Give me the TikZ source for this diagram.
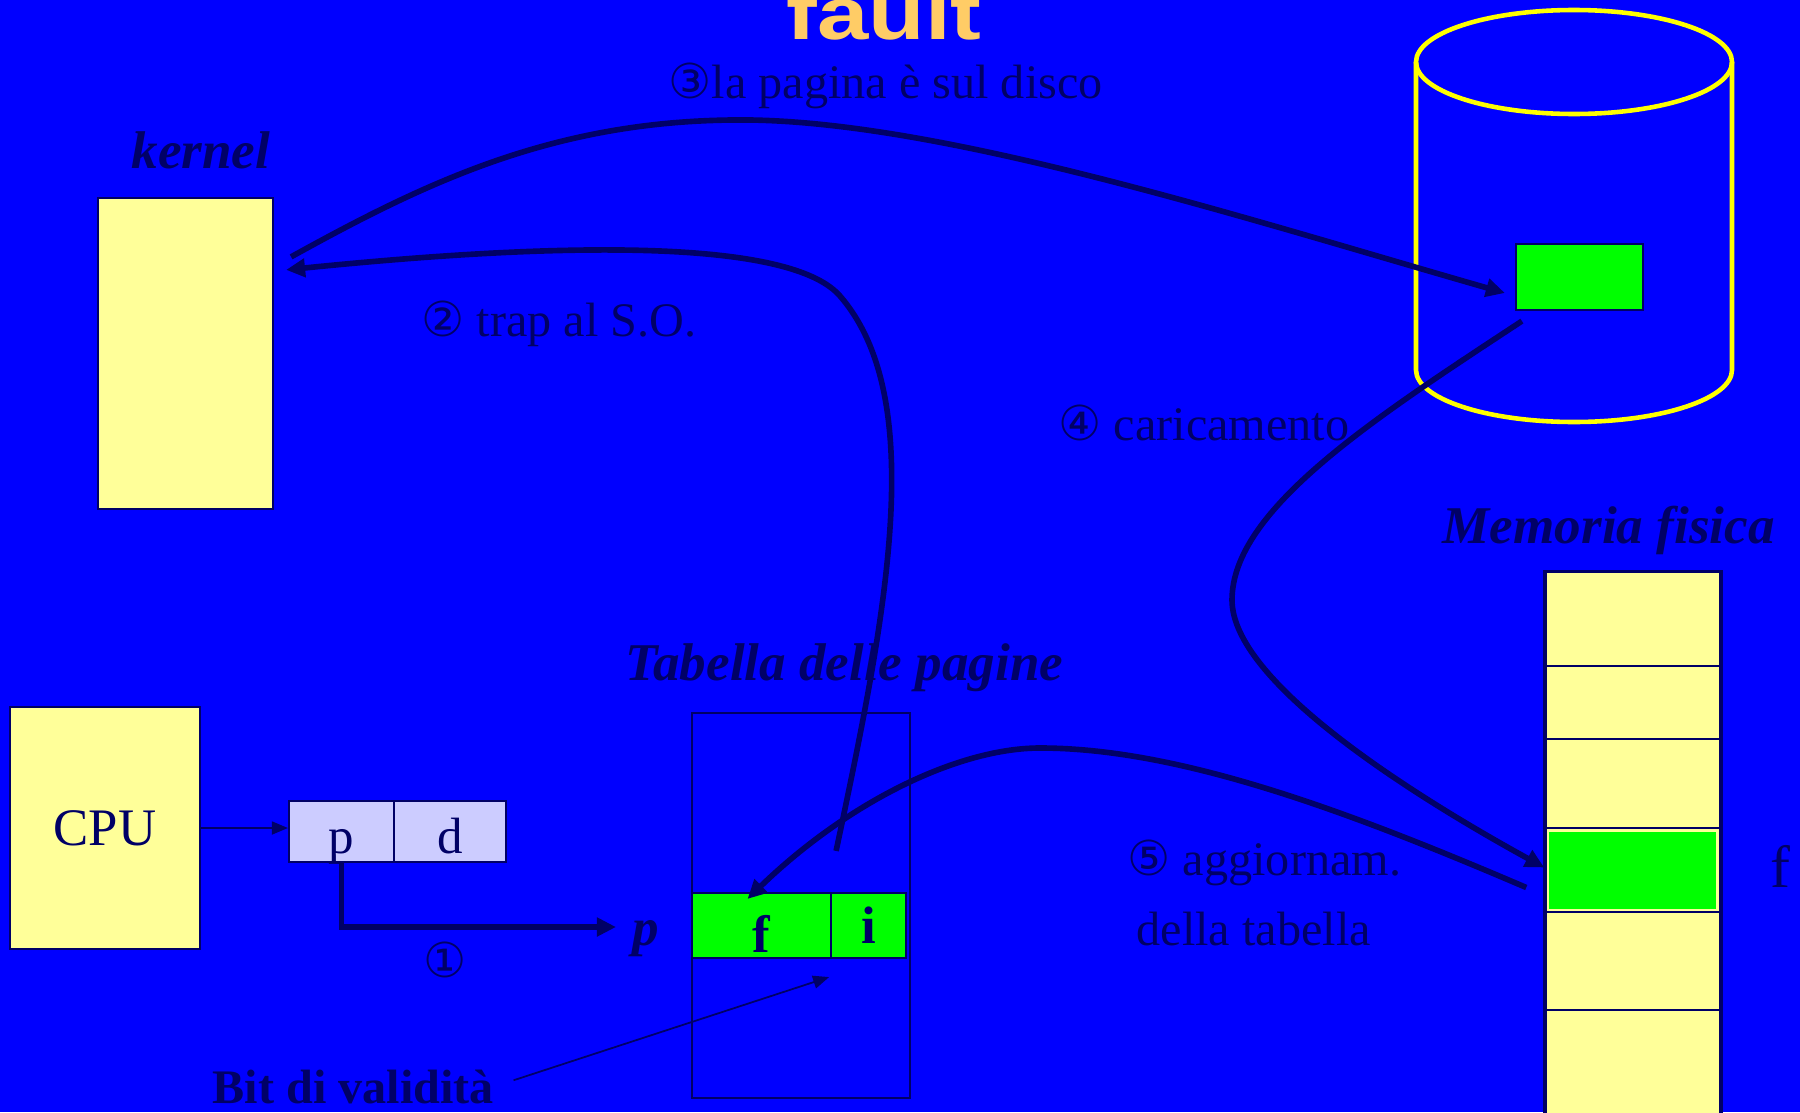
\documentclass[tikz,border=0pt]{standalone}
\usepackage{fontspec}
\setmainfont{Liberation Serif}
\newfontfamily\circfont{DejaVu Sans}
\newfontfamily\headfont[FakeStretch=1.25]{Liberation Sans}
\usetikzlibrary{arrows.meta, calc}
\definecolor{slidebg}{HTML}{0000FF}
\definecolor{ink}    {HTML}{000066}
\definecolor{paper}  {HTML}{FFFF99}
\definecolor{lilac}  {HTML}{CCCCFF}
\definecolor{hit}    {HTML}{00FF00}
\definecolor{platter}{HTML}{FFFF00}
\definecolor{headtxt}{HTML}{FFCC66}

\begin{document}
\begin{tikzpicture}[x=0.01cm, y=-0.01cm,
    txt/.style={text=ink, inner sep=0pt, font=\fontsize{13.7}{16}\selectfont},
    boldtxt/.style={text=ink, inner sep=0pt, font=\fontsize{15}{17}\selectfont\bfseries},
    head/.style={text=ink, inner sep=0pt, font=\fontsize{15.1}{18}\selectfont\bfseries\itshape},
    cell/.style={draw=ink, line width=0.6pt, inner sep=0pt, fill=#1},
    flow/.style={draw=ink, line width=1.6pt, -{Triangle[length=0.19cm, width=0.18cm]}},
    pointer/.style={draw=ink, line width=0.5pt, -{Triangle[length=0.16cm, width=0.13cm]}}]
  \clip (0,0) rectangle (1800,1112);
  \fill[slidebg] (0,0) rectangle (1800,1112);

  % title, cut by the top edge
  \node[anchor=base west, inner sep=0pt, text=headtxt,
        font=\headfont\fontsize{21}{24}\selectfont\bfseries] (title) at (786,39) {fault};

  % kernel
  \node[head, anchor=base] (kernlbl) at (201,168) {kernel};
  \node[cell=paper, minimum width=1.75cm, minimum height=3.11cm] (kern) at (185.5,353.5) {};

  % cpu and logical address
  \node[cell=paper, txt, font=\fontsize{15}{18}\selectfont,
        minimum width=1.9cm, minimum height=2.42cm] (cpu) at (105,828) {CPU};
  \node[cell=lilac, txt, font=\fontsize{14.5}{17}\selectfont, minimum width=1.05cm,
        text height=0.52cm, text depth=0.09cm] (pc) at (341.5,831.5) {p};
  \node[cell=lilac, txt, font=\fontsize{14.5}{17}\selectfont, minimum width=1.12cm,
        text height=0.52cm, text depth=0.09cm] (dc) at (450,831.5) {d};

  % page table
  \node[head, anchor=base west] (ptablbl) at (625,680) {Tabella delle pagine};
  \node[draw=ink, line width=0.6pt, inner sep=0pt,
        minimum width=2.18cm, minimum height=3.85cm] (ptab) at (801,905.5) {};
  \node[cell=hit, boldtxt, minimum width=1.39cm, text height=0.59cm, text depth=0.06cm] (rowf) at (761.5,925.5) {f};
  \node[cell=hit, boldtxt, minimum width=0.75cm, text height=0.50cm, text depth=0.15cm] (rowi) at (868.5,925.5) {i};
  \node[head, anchor=base west] (pidx) at (632,945) {p};
  \node[txt, font=\fontsize{13.7}{16}\selectfont\bfseries, anchor=base west] (bit) at (212,1103) {Bit di validità};

  % physical memory
  \node[head, anchor=base west] (memlbl) at (1442,543) {Memoria fisica};
  \node[cell=paper, line width=0.9pt, minimum width=1.76cm, minimum height=5.6cm] (mem) at (1633,852) {};
  \foreach \y in {666,739,828,912,1010}
    \draw[ink, line width=0.8pt] (1545,\y) -- (1721,\y);
  \node[fill=hit, inner sep=0pt, minimum width=1.67cm, minimum height=0.77cm] (memf) at (1632.5,870.5) {};
  \node[txt, font=\fontsize{17}{20}\selectfont, anchor=base west] (flbl) at (1770,887) {f};

  % disk
  \draw[platter, line width=1.3pt] (1574,62) ellipse [x radius=158, y radius=52];
  \draw[platter, line width=1.3pt] (1416,62) -- (1416,370)
    arc[start angle=180, end angle=0, x radius=158, y radius=52] -- (1732,62);
  \node[cell=hit, minimum width=1.27cm, minimum height=0.66cm] (dblk) at (1579.5,277) {};

  % step labels
  \node[txt, anchor=base west] (s3) at (668,98) {{\circfont ③}la pagina è sul disco};
  \node[txt, anchor=base west] (s2) at (421,336) {{\circfont ②} trap al S.O.};
  \node[txt, anchor=base west] (s4) at (1058,440) {{\circfont ④} caricamento};
  \node[txt, anchor=base west] (s5) at (1127,875) {{\circfont ⑤} aggiornam.};
  \node[txt, anchor=base west] (s5b) at (1136,945) {della tabella};
  \node[txt] (s1) at (445,960) {\circfont ①};

  % connectors
  \coordinate (ptip) at (616,927);
  \draw[pointer] (cpu.east) -- (cpu.east -| pc.west);
  \draw[flow] (pc.south) |- (ptip);
  \draw[pointer, shorten <=0.2cm] (bit.east) -- ($(rowf.south east)+(-3,18)$);

  \draw[flow] ($(rowf.north east)+(4,-41)$) .. controls (885,620) and (930,400) .. (840,296)
    .. controls (795,244) and (600,238) .. ($(kern.north east)+(12,73)$);
  \draw[flow] ($(kern.north east)+(17,60)$) .. controls (430,180) and (560,118) .. (750,120)
    .. controls (950,123) and (1250,220) .. ($(dblk.west)+(-10,16)$);
  \draw[flow] ($(dblk.south west)+(7,10)$) .. controls (1373,419) and (1232,510) .. (1232,600)
    .. controls (1232,680) and (1405,791) .. ($(memf.west)+(-4,-3)$);
  \draw[flow] ($(memf.west)+(-22,17)$) .. controls (1350,812) and (1180,748) .. (1040,748)
    .. controls (960,748) and (850,800) .. ($(rowf.north)+(-14,7)$);
\end{tikzpicture}
\end{document}
